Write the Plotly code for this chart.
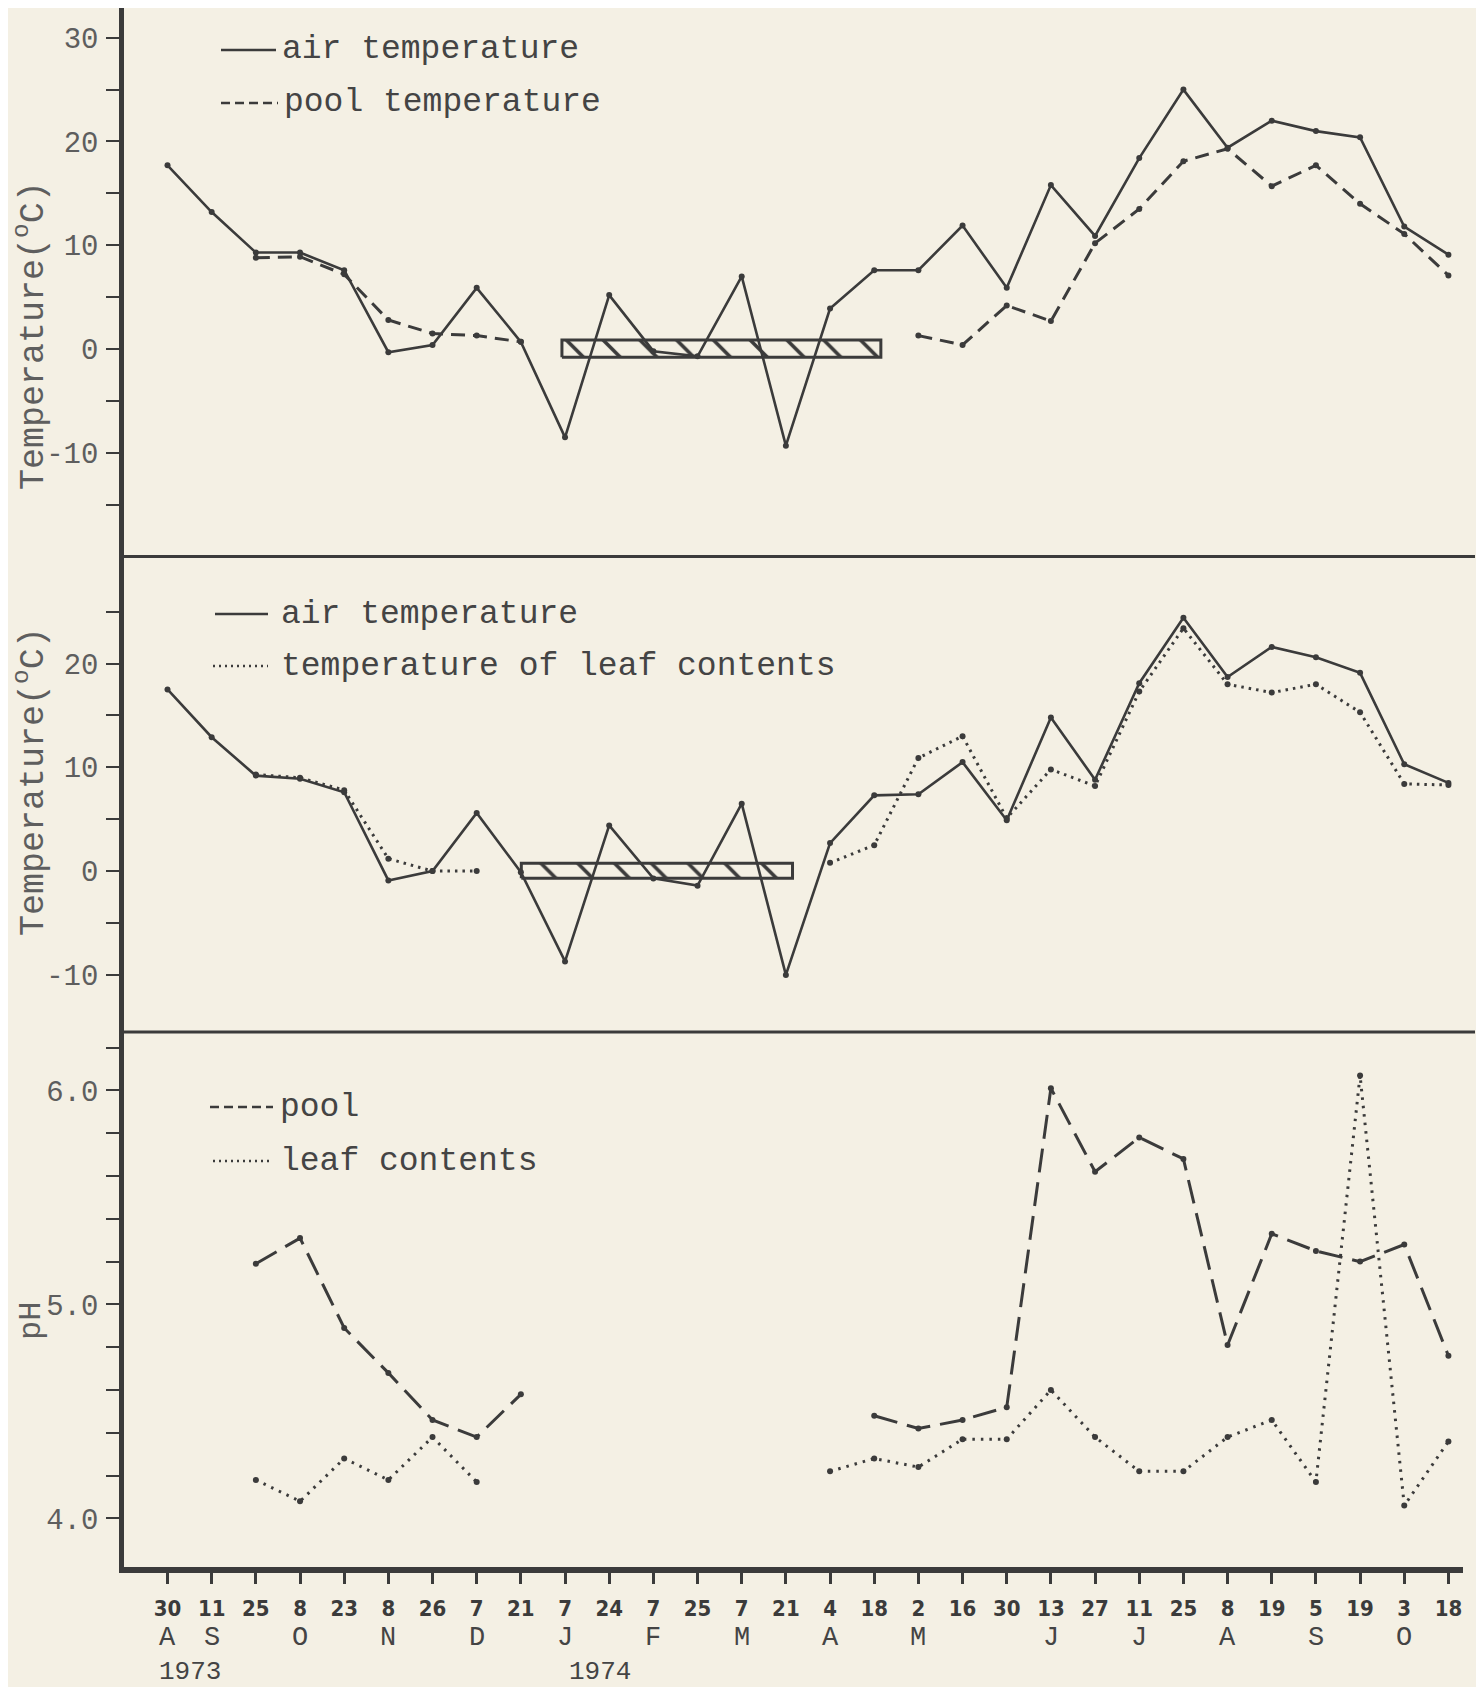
import plotly.graph_objects as go

# ---------------- data ----------------
sample_dates = ["1973-08-30", "1973-09-11", "1973-09-25", "1973-10-08", "1973-10-23",
                "1973-11-08", "1973-11-26", "1973-12-07", "1973-12-21", "1974-01-07",
                "1974-01-24", "1974-02-07", "1974-02-25", "1974-03-07", "1974-03-21",
                "1974-04-04", "1974-04-18", "1974-05-02", "1974-05-16", "1974-05-30",
                "1974-06-13", "1974-06-27", "1974-07-11", "1974-07-25", "1974-08-08",
                "1974-08-19", "1974-09-05", "1974-09-19", "1974-10-03", "1974-10-18"]
day_labels = ["30", "11", "25", "8", "23", "8", "26", "7", "21", "7", "24", "7", "25", "7", "21",
              "4", "18", "2", "16", "30", "13", "27", "11", "25", "8", "19", "5", "19", "3", "18"]
month_labels = ["A", "S", "O", "N", "D", "J", "F", "M", "A", "M", "J", "J", "A", "S", "O"]
month_sample_index = [0, 1, 3, 5, 7, 9, 11, 13, 15, 17, 20, 22, 24, 26, 28]
year_labels = ["1973", "1974"]
year_label_center = [0.5, 9.8]

# panel 1: temperatures (deg C)
air_temp_1 = [17.7, 13.2, 9.3, 9.3, 7.6, -0.3, 0.4, 5.9, 0.7, -8.5, 5.2, -0.2, -0.7, 7.0, -9.3,
              3.9, 7.6, 7.6, 11.9, 5.9, 15.8, 10.9, 18.4, 25.0, 19.4, 22.0, 21.0, 20.4, 11.8, 9.1]
pool_temp = [None, None, 8.8, 8.9, 7.2, 2.8, 1.5, 1.3, 0.7,
             None, None, None, None, None, None, None, None,
             1.3, 0.4, 4.2, 2.7, 10.2, 13.5, 18.1, 19.3, 15.7, 17.7, 14.0, 11.1, 7.1]

# panel 2: temperatures (deg C)
air_temp_2 = [17.5, 12.9, 9.2, 8.9, 7.6, -0.9, 0.0, 5.6, -0.1, -8.7, 4.4, -0.7, -1.4, 6.5, -10.0,
              2.7, 7.3, 7.4, 10.5, 4.9, 14.8, 8.8, 18.1, 24.4, 18.7, 21.6, 20.6, 19.1, 10.3, 8.5]
leaf_temp = [None, None, 9.3, 9.0, 7.8, 1.2, 0.0, 0.0,
             None, None, None, None, None, None, None,
             0.8, 2.5, 10.9, 13.0, 5.1, 9.8, 8.2, 17.3, 23.4, 18.0, 17.2, 18.0, 15.3, 8.4, 8.3]

# panel 3: pH
pool_ph = [None, None, 5.19, 5.31, 4.89, 4.68, 4.46, 4.38, 4.58,
           None, None, None, None, None, None, None,
           4.48, 4.42, 4.46, 4.52, 6.01, 5.62, 5.78, 5.68, 4.81, 5.33, 5.25, 5.20, 5.28, 4.76]
leaf_ph = [None, None, 4.18, 4.08, 4.28, 4.18, 4.38, 4.17,
           None, None, None, None, None, None, None,
           4.22, 4.28, 4.24, 4.37, 4.37, 4.60, 4.38, 4.22, 4.22, 4.38, 4.46, 4.17, 6.07, 4.06, 4.36]

# hatched (frozen) periods: [start, end] in sample-index units, [low, high] in deg C
frozen_1_x = [8.93, 16.15]
frozen_1_y = [-0.79, 0.88]
frozen_2_x = [8.01, 14.15]
frozen_2_y = [-0.69, 0.75]

# ---------------- layout helpers ----------------
OFF = 8                     # browser body margin
FW, FH = 1484 - 2 * OFF, 1695 - 2 * OFF
PL, PR, PT, PB = 124, 1463, 8, 1567   # plot area in window pixels


def px_x(px):
    return (px - PL) / (PR - PL)


def px_y(py):
    return (PB - py) / (PB - PT)


BG = "#f4f0e4"
INK = "#3b3b3b"
TXT = "#444444"
TICK_TXT = "#5e5e5e"
MONO = "Liberation Mono, DejaVu Sans Mono, monospace"
NARROW = "Liberation Sans Narrow, DejaVu Sans Condensed, Arial Narrow, sans-serif"

xi = list(range(len(sample_dates)))

fig = go.Figure()


def hatched_box(xr, yr, yaxis):
    return go.Scatter(
        x=[xr[0], xr[1], xr[1], xr[0], xr[0]],
        y=[yr[0], yr[0], yr[1], yr[1], yr[0]],
        xaxis="x", yaxis=yaxis, mode="lines", fill="toself",
        fillcolor=BG,
        fillpattern=dict(shape="\\", fgcolor=INK, fgopacity=1, bgcolor=BG, size=26,
                         solidity=0.14),
        line=dict(color=INK, width=3), showlegend=False, hoverinfo="skip")


def series(y, yaxis, dash, width, name):
    return go.Scatter(
        x=xi, y=y, xaxis="x", yaxis=yaxis, mode="lines+markers", name=name,
        line=dict(color=INK, width=width, dash=dash),
        marker=dict(size=6, color=INK), connectgaps=False, showlegend=False)


fig.add_trace(hatched_box(frozen_1_x, frozen_1_y, "y"))
fig.add_trace(hatched_box(frozen_2_x, frozen_2_y, "y2"))

fig.add_trace(series(air_temp_1, "y", "solid", 2.6, "air temperature"))
fig.add_trace(series(pool_temp, "y", "14px,8px", 3, "pool temperature"))
fig.add_trace(series(air_temp_2, "y2", "solid", 2.6, "air temperature"))
fig.add_trace(series(leaf_temp, "y2", "2.5px,5px", 3, "temperature of leaf contents"))
fig.add_trace(series(pool_ph, "y3", "24px,10px", 3, "pool"))
fig.add_trace(series(leaf_ph, "y3", "2.5px,6px", 3, "leaf contents"))

sep1, sep2 = 556.6, 1032

yaxis_common = dict(
    showline=True, linewidth=4.5, linecolor=INK, showgrid=False, zeroline=False,
    ticks="outside", ticklen=13, tickwidth=2, tickcolor=INK, anchor="x",
    tickfont=dict(family=MONO, size=29, color=TICK_TXT), ticklabelstandoff=2,
)

fig.update_layout(
    width=FW, height=FH, autosize=False,
    margin=dict(l=PL - OFF, r=FW - (PR - OFF), t=PT - OFF, b=FH - (PB - OFF), pad=0),
    paper_bgcolor=BG, plot_bgcolor=BG,
    xaxis=dict(
        range=[-0.985, 29.33], tickmode="array", tickvals=xi, ticktext=day_labels,
        ticks="outside", ticklen=11, tickwidth=2.5, tickcolor=INK,
        showline=True, linewidth=6, linecolor=INK, showgrid=False, zeroline=False,
        anchor="y3", ticklabelstandoff=6,
        tickfont=dict(family=NARROW, size=22, color=INK, weight="bold"),
    ),
    yaxis=dict(
        domain=[px_y(sep1), 1], range=[-19.99, 32.86],
        tickmode="array", tickvals=[-10, 0, 10, 20, 30], ticktext=["-10", "0", "10", "20", "30"],
        minor=dict(tickmode="array", tickvals=[-15, -5, 5, 15, 25], ticks="outside",
                   ticklen=13, tickwidth=2, tickcolor=INK),
        **yaxis_common),
    yaxis2=dict(
        domain=[px_y(sep2), px_y(sep1)], range=[-15.5, 30.3],
        tickmode="array", tickvals=[-10, 0, 10, 20], ticktext=["-10", "0", "10", "20"],
        minor=dict(tickmode="array", tickvals=[-5, 5, 15, 25], ticks="outside",
                   ticklen=13, tickwidth=2, tickcolor=INK),
        **yaxis_common),
    yaxis3=dict(
        domain=[0, px_y(sep2)], range=[3.773, 6.273],
        tickmode="array", tickvals=[4.0, 5.0, 6.0], ticktext=["4.0", "5.0", "6.0"],
        minor=dict(tickmode="array", tickvals=[4.2, 4.4, 4.6, 4.8, 5.2, 5.4, 5.6, 5.8, 6.2],
                   ticks="outside", ticklen=13, tickwidth=2, tickcolor=INK),
        **yaxis_common),
)

shapes = []
# panel separators
for sy in (sep1, sep2):
    shapes.append(dict(type="line", xref="paper", yref="paper",
                       x0=0, x1=px_x(1475), y0=px_y(sy), y1=px_y(sy),
                       line=dict(color=INK, width=3)))

annotations = []


def legend_item(y_px, x0_px, x1_px, dash, text_x_px, text):
    shapes.append(dict(type="line", xref="paper", yref="paper",
                       x0=px_x(x0_px), x1=px_x(x1_px), y0=px_y(y_px), y1=px_y(y_px),
                       line=dict(color=INK, width=2.6, dash=dash)))
    annotations.append(dict(xref="paper", yref="paper", x=px_x(text_x_px), y=px_y(y_px),
                            xanchor="left", yanchor="middle", showarrow=False, text=text,
                            font=dict(family=MONO, size=33, color=TXT)))


legend_item(50, 221, 276, "solid", 280, "air temperature")
legend_item(103, 221, 278, "9px,5px", 282, "pool temperature")
legend_item(614, 215, 268, "solid", 279, "air temperature")
legend_item(666, 213, 268, "2px,4px", 279, "temperature of leaf contents")
legend_item(1107, 210, 273, "9px,5px", 278, "pool")
legend_item(1161, 213, 273, "2px,4px", 278, "leaf contents")

# y-axis titles
for yc, txt, xc, fs in ((336, "Temperature(<sup>o</sup>C)", 31, 35),
                        (782, "Temperature(<sup>o</sup>C)", 31, 35),
                        (1321, "pH", 31, 32)):
    annotations.append(dict(xref="paper", yref="paper", x=px_x(xc), y=px_y(yc),
                            xanchor="center", yanchor="middle", textangle=-90,
                            showarrow=False, text=txt,
                            font=dict(family=MONO, size=fs, color=TICK_TXT)))

# month letters and years under the day ticks
for lab, idx in zip(month_labels, month_sample_index):
    annotations.append(dict(xref="x", yref="paper", x=idx, y=px_y(1638),
                            xanchor="center", yanchor="middle", showarrow=False, text=lab,
                            font=dict(family=MONO, size=27, color=TXT)))
for lab, xc in zip(year_labels, year_label_center):
    annotations.append(dict(xref="x", yref="paper", x=xc, y=px_y(1672),
                            xanchor="center", yanchor="middle", showarrow=False, text=lab,
                            font=dict(family=MONO, size=26, color=TXT)))

fig.update_layout(shapes=shapes, annotations=annotations)

fig.write_html("out.html")
